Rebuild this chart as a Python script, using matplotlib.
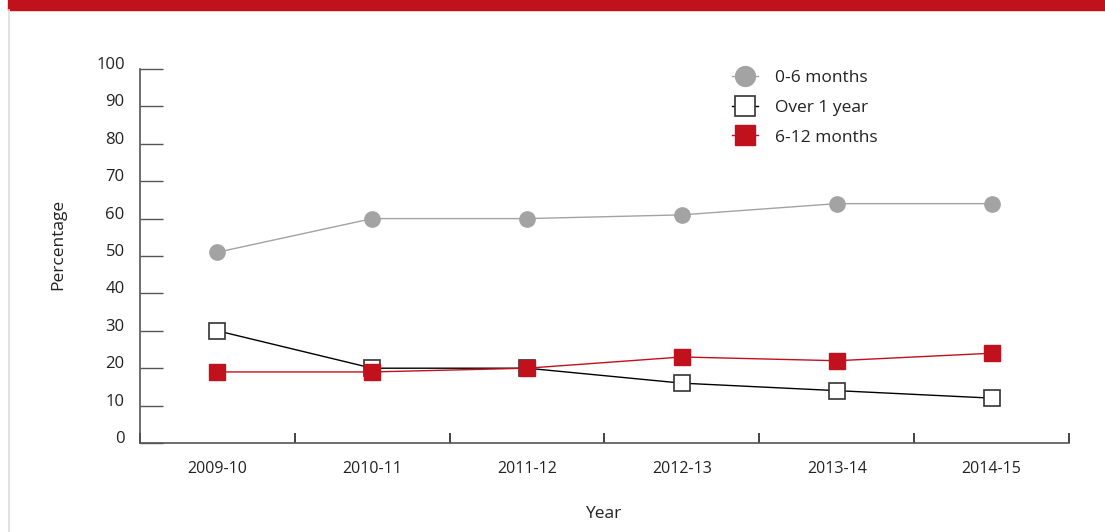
import matplotlib
matplotlib.use("Agg")
import matplotlib.pyplot as plt
from matplotlib.patches import Rectangle
from matplotlib.lines import Line2D
from matplotlib.transforms import ScaledTranslation

plt.rcParams['font.family'] = ['Open Sans', 'DejaVu Sans']

# Share of cases by time taken, per year
years = ['2009-10', '2010-11', '2011-12', '2012-13', '2013-14', '2014-15']
months_0_6 = [51, 60, 60, 61, 64, 64]
over_1_year = [30, 20, 20, 16, 14, 12]
months_6_12 = [19, 19, 20, 23, 22, 24]

red = '#c0111d'
grey = '#a3a3a3'
text_col = '#222222'
axis_col = '#555555'

fig = plt.figure(figsize=(11.05, 5.32), dpi=100)
ax = fig.add_axes([140 / 1105, 1 - 443 / 532, 929 / 1105, 374 / 532])

# red band across the top and thin grey rule down the left edge
fig.patches.append(Rectangle((8 / 1105, 1 - 10 / 532), 1, 10 / 532,
                             transform=fig.transFigure, color=red, zorder=0))
fig.lines.append(Line2D([8.5 / 1105, 8.5 / 1105], [0, 1 - 10 / 532],
                        transform=fig.transFigure, color='#dddddd', lw=1.2))

x = range(len(years))
ax.plot(x, months_0_6, color=grey, lw=1, marker='o', ms=11,
        mfc=grey, mec=grey, label='0-6 months', zorder=3)
ax.plot(x, over_1_year, color='black', lw=1, marker='s', ms=11,
        mfc='white', mec='#333333', mew=1.2, label='Over 1 year', zorder=3)
ax.plot(x, months_6_12, color=red, lw=1, marker='s', ms=11.5,
        mfc=red, mec=red, label='6-12 months', zorder=4)

ax.set_xlim(-0.5, len(years) - 0.5)
ax.set_ylim(0, 100)

for s in ['top', 'right']:
    ax.spines[s].set_visible(False)
for s in ['left', 'bottom']:
    ax.spines[s].set_color(axis_col)
    ax.spines[s].set_linewidth(1.2)

ax.set_yticks(range(0, 101, 10))
ax.tick_params(axis='y', direction='in', length=16.5, width=1, color=axis_col,
               pad=11, labelsize=12, labelcolor=text_col)
# y labels sit a little above their tick marks
lift = ScaledTranslation(0, 6 / 100, fig.dpi_scale_trans)
for lbl in ax.get_yticklabels():
    lbl.set_transform(lbl.get_transform() + lift)

ax.set_xticks(list(x))
ax.set_xticklabels(years)
ax.set_xticks([i - 0.5 for i in range(len(years) + 1)], minor=True)
ax.tick_params(axis='x', which='major', length=0, pad=13, labelsize=11.5,
               labelcolor=text_col)
ax.tick_params(axis='x', which='minor', direction='in', length=7, width=1.2,
               color='#222222')

ax.set_ylabel('Percentage', fontsize=12.5, color=text_col)
ax.yaxis.set_label_coords(-0.079, 0.53)
ax.set_xlabel('Year', fontsize=12.5, color=text_col)
ax.xaxis.set_label_coords(0.498, -0.169)

leg = ax.legend(loc='upper left', bbox_to_anchor=(0.62, 1.04), frameon=False,
                fontsize=12.5, handlelength=1.5, handletextpad=0.98,
                labelspacing=0.79, labelcolor=text_col, markerscale=1.3)

fig.savefig('out.png', dpi=100)
